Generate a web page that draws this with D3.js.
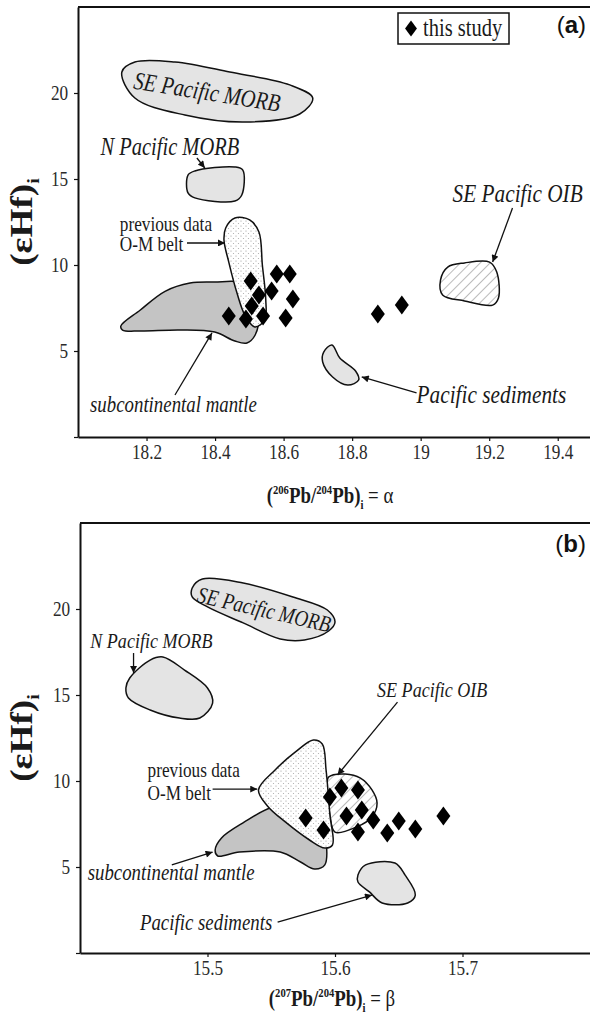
<!DOCTYPE html>
<html>
<head>
<meta charset="utf-8">
<script src="https://cdn.jsdelivr.net/npm/d3@7"></script>
<style>
  html, body { margin: 0; padding: 0; background: #fff; }
  svg { display: block; }
</style>
</head>
<body>
<svg id="chart" width="590" height="1027"></svg>
<script>
// ---------- panel (a): eHf vs 206Pb/204Pb ----------
const yTickValues = [0, 5, 10, 15, 20];
const xTicksA = [18.2, 18.4, 18.6, 18.8, 19.0, 19.2, 19.4];

const studyA = [
  [18.44, 7.03], [18.49, 6.86], [18.504, 9.07], [18.507, 7.62], [18.528, 8.26],
  [18.54, 7.03], [18.565, 8.49], [18.58, 9.48], [18.618, 9.48], [18.627, 8.02],
  [18.606, 6.92], [18.875, 7.15], [18.945, 7.67]
];

const seMorbA = [[18.128,21.22],[18.166,21.80],[18.283,21.80],[18.443,21.22],[18.618,20.47],
  [18.685,19.71],[18.647,18.78],[18.487,18.31],[18.312,18.72],[18.166,19.71]];
const nMorbA = [[18.321,15.23],[18.341,15.47],[18.458,15.70],[18.481,15.52],[18.478,14.07],
  [18.458,13.72],[18.341,13.90],[18.321,14.19]];
const beltA = [[18.431,12.15],[18.458,12.73],[18.501,12.62],[18.528,11.92],[18.538,10.0],
  [18.548,7.97],[18.545,6.80],[18.516,6.40],[18.487,7.09],[18.464,8.37],[18.440,10.17],[18.426,11.45]];
const mantleA = [[18.125,6.45],[18.181,7.37],[18.254,8.47],[18.327,8.95],[18.399,9.01],[18.472,9.01],
  [18.520,8.55],[18.530,7.38],[18.517,5.93],[18.493,5.47],[18.458,5.58],[18.399,6.10],[18.297,6.22],
  [18.181,6.16],[18.130,6.22]];
const sedA = [[18.717,4.94],[18.741,5.35],[18.764,4.59],[18.810,3.84],[18.819,3.31],[18.787,3.02],
  [18.743,3.49],[18.714,4.36]];
const oibA = [[19.058,9.13],[19.079,9.88],[19.128,10.12],[19.201,10.17],[19.222,9.59],[19.227,8.08],
  [19.210,7.67],[19.128,7.91],[19.064,8.26]];

// ---------- panel (b): eHf vs 207Pb/204Pb ----------
const xTicksB = [15.5, 15.6, 15.7];

const studyB = [
  [15.577, 7.85], [15.591, 7.15], [15.596, 9.07], [15.605, 9.59], [15.618, 9.48],
  [15.609, 7.97], [15.621, 8.31], [15.618, 7.03], [15.630, 7.73], [15.641, 6.98],
  [15.650, 7.67], [15.663, 7.21], [15.685, 7.97]
];

const seMorbB = [[15.488,21.22],[15.496,21.74],[15.528,21.51],[15.567,20.70],[15.594,19.94],
  [15.600,19.24],[15.595,18.72],[15.576,18.20],[15.557,18.26],[15.528,19.19],[15.500,20.12],[15.488,20.70]];
const nMorbB = [[15.439,15.99],[15.455,17.03],[15.465,17.21],[15.482,16.45],[15.500,15.41],
  [15.504,14.53],[15.494,13.66],[15.478,13.66],[15.455,14.13],[15.438,14.83],[15.436,15.41]];
const beltB = [[15.540,9.48],[15.553,10.64],[15.569,11.69],[15.583,12.38],[15.590,12.15],[15.593,10.64],
  [15.596,8.02],[15.598,6.28],[15.592,6.10],[15.580,6.57],[15.561,7.62],[15.547,8.55]];
const mantleB = [[15.506,5.99],[15.511,6.69],[15.529,7.62],[15.549,8.43],[15.565,8.60],[15.588,8.02],
  [15.593,6.57],[15.592,5.12],[15.584,4.88],[15.573,5.29],[15.557,5.87],[15.525,5.87],[15.508,5.64]];
const oibB = [[15.595,10.23],[15.608,10.41],[15.620,10.17],[15.629,9.48],[15.633,8.72],[15.629,7.91],
  [15.617,7.33],[15.600,7.03],[15.596,8.02],[15.594,9.48]];
const sedB = [[15.618,4.53],[15.624,5.12],[15.647,5.23],[15.655,4.53],[15.663,3.37],[15.657,2.91],
  [15.637,2.91],[15.627,3.55],[15.618,4.13]];

// annotation anchors, in data units
const labelsA = [
  { text: "SE Pacific MORB", at: [18.373, 19.59], size: 25, rot: 9, anchor: "middle" },
  { text: "N Pacific MORB", at: [18.268, 16.40], size: 25, anchor: "middle" },
  { text: "previous data", at: [18.122, 11.98], size: 21, upright: true },
  { text: "O-M belt", at: [18.122, 10.81], size: 21, upright: true },
  { text: "subcontinental mantle", at: [18.035, 1.45], size: 23 },
  { text: "Pacific sediments", at: [18.988, 1.98], size: 26 },
  { text: "SE Pacific OIB", at: [19.093, 13.66], size: 26 }
];
const arrowsA = [
  [[18.347, 16.22], [18.370, 15.64]],
  [[18.318, 11.28], [18.429, 11.28]],
  [[18.283, 2.44], [18.391, 6.05]],
  [[18.988, 2.56], [18.828, 3.49]],
  [[19.268, 13.31], [19.210, 10.17]]
];
const labelsB = [
  { text: "SE Pacific MORB", at: [15.543, 19.53], size: 23, rot: 13, anchor: "middle" },
  { text: "N Pacific MORB", at: [15.456, 17.73], size: 22, anchor: "middle" },
  { text: "previous data", at: [15.453, 10.23], size: 21, upright: true },
  { text: "O-M belt", at: [15.453, 8.90], size: 21, upright: true },
  { text: "subcontinental mantle", at: [15.406, 4.24], size: 23 },
  { text: "Pacific sediments", at: [15.447, 1.34], size: 23 },
  { text: "SE Pacific OIB", at: [15.633, 14.88], size: 22 }
];
const arrowsB = [
  [[15.442, 17.44], [15.442, 16.28]],
  [[15.504, 9.53], [15.539, 9.53]],
  [[15.472, 5.12], [15.504, 5.87]],
  [[15.555, 1.80], [15.629, 3.37]],
  [[15.649, 14.59], [15.602, 10.35]]
];

const SERIF = "'Liberation Serif', 'Times New Roman', serif";
const SX = 0.82; // glyphs in the figure are narrow/tall
const LIGHT = "#e4e4e4", MID = "#c4c4c4";

const svg = d3.select("#chart");
const defs = svg.append("defs");

const hatch = defs.append("pattern").attr("id", "hatch")
  .attr("patternUnits", "userSpaceOnUse").attr("width", 7).attr("height", 7)
  .attr("patternTransform", "rotate(45)");
hatch.append("rect").attr("width", 7).attr("height", 7).attr("fill", "#fff");
hatch.append("line").attr("x1", 0).attr("y1", 0).attr("x2", 0).attr("y2", 7)
  .attr("stroke", "#777").attr("stroke-width", 1);

const dots = defs.append("pattern").attr("id", "dots")
  .attr("patternUnits", "userSpaceOnUse").attr("width", 5).attr("height", 5);
dots.append("rect").attr("width", 5).attr("height", 5).attr("fill", "#fff");
dots.append("circle").attr("cx", 1).attr("cy", 1).attr("r", 0.6).attr("fill", "#999");
dots.append("circle").attr("cx", 3.5).attr("cy", 3.5).attr("r", 0.6).attr("fill", "#aaa");

defs.append("marker").attr("id", "arrow")
  .attr("viewBox", "0 0 10 10").attr("refX", 10).attr("refY", 5)
  .attr("markerUnits", "userSpaceOnUse").attr("markerWidth", 9).attr("markerHeight", 7)
  .attr("orient", "auto")
  .append("path").attr("d", "M0,0L10,5L0,10Z").attr("fill", "#111");

const DIAMOND = "M0,-9.5L7,0L0,9.5L-7,0Z";

function drawPanel(cfg) {
  const x = d3.scaleLinear().domain(cfg.xDomain).range([cfg.left, cfg.right]);
  const y = d3.scaleLinear().domain([0, 25]).range([cfg.bottom, cfg.top]);
  const g = svg.append("g");

  const shape = d3.line()
    .x(d => x(d[0])).y(d => y(d[1]))
    .curve(d3.curveCatmullRomClosed.alpha(0.5));

  cfg.fields.forEach(f => {
    g.append("path").attr("d", shape(f.pts))
      .attr("fill", f.fill).attr("stroke", "#111").attr("stroke-width", 1.5);
  });

  // arrows
  cfg.arrows.forEach(a => {
    g.append("line")
      .attr("x1", x(a[0][0])).attr("y1", y(a[0][1]))
      .attr("x2", x(a[1][0])).attr("y2", y(a[1][1]))
      .attr("stroke", "#111").attr("stroke-width", 1.3)
      .attr("marker-end", "url(#arrow)");
  });

  // labels
  cfg.labels.forEach(l => {
    g.append("text")
      .attr("transform", `translate(${x(l.at[0])},${y(l.at[1])}) rotate(${l.rot || 0}) scale(${SX},1)`)
      .attr("text-anchor", l.anchor || "start")
      .attr("font-family", SERIF)
      .attr("font-style", l.upright ? "normal" : "italic")
      .attr("font-size", l.size)
      .attr("fill", "#1a1a1a")
      .text(l.text);
  });

  // this study
  g.selectAll("path.study").data(cfg.study).join("path")
    .attr("class", "study")
    .attr("d", DIAMOND)
    .attr("transform", d => `translate(${x(d[0])},${y(d[1])})`)
    .attr("fill", "#000");

  // axes
  const ax = g.append("g")
    .attr("transform", `translate(0,${cfg.bottom})`)
    .call(d3.axisBottom(x).tickValues(cfg.xTicks).tickSize(4).tickSizeOuter(0).tickPadding(3)
      .tickFormat(d3.format("~g")));
  const ay = g.append("g")
    .attr("transform", `translate(${cfg.left},0)`)
    .call(d3.axisLeft(y).tickValues(yTickValues).tickSize(4).tickSizeOuter(0)
      .tickFormat(d => d === 0 ? "" : d));
  [ax, ay].forEach(a => {
    a.select(".domain").attr("stroke", "#111").attr("stroke-width", 2);
    a.selectAll(".tick line").attr("stroke", "#111").attr("stroke-width", 1.2);
    a.selectAll(".tick text")
      .attr("font-family", SERIF).attr("font-size", 21).attr("fill", "#2a2a2a");
  });
  ax.selectAll(".tick text").attr("transform", `scale(${SX},1)`);
  ay.selectAll(".tick text").attr("transform", `scale(${SX},1)`).attr("x", -12);

  // top frame line
  g.append("line")
    .attr("x1", cfg.left).attr("x2", cfg.right)
    .attr("y1", cfg.top).attr("y2", cfg.top)
    .attr("stroke", "#111").attr("stroke-width", 2);

  // y title (eHf)i
  const midY = (cfg.top + cfg.bottom) / 2;
  const yt = g.append("text")
    .attr("transform", `translate(32,${midY}) rotate(-90) scale(1.2,1)`)
    .attr("text-anchor", "middle")
    .attr("font-family", SERIF).attr("font-weight", "bold").attr("font-size", 31)
    .attr("fill", "#1a1a1a");
  yt.append("tspan").text("(εHf)");
  yt.append("tspan").attr("font-size", 17).attr("dy", 7).text("i");

  // x title
  const xt = g.append("text")
    .attr("transform", `translate(${cfg.xTitleX},${cfg.xTitleY}) scale(${SX},1)`)
    .attr("text-anchor", "middle")
    .attr("font-family", SERIF).attr("font-weight", "bold").attr("font-size", 23)
    .attr("fill", "#1a1a1a");
  xt.append("tspan").text("(");
  xt.append("tspan").attr("font-size", 13).attr("dy", -9).text(cfg.isotope);
  xt.append("tspan").attr("dy", 9).text("Pb/");
  xt.append("tspan").attr("font-size", 13).attr("dy", -9).text("204");
  xt.append("tspan").attr("dy", 9).text("Pb)");
  xt.append("tspan").attr("font-size", 13).attr("dy", 6).text("i");
  xt.append("tspan").attr("dy", -6).attr("font-weight", "normal").text(" = " + cfg.greek);

  // panel letter
  const pl = g.append("text")
    .attr("x", 586).attr("y", cfg.top + cfg.letterDy)
    .attr("text-anchor", "end")
    .attr("font-family", "'Liberation Sans', Arial, sans-serif").attr("font-size", 24)
    .attr("fill", "#111");
  pl.append("tspan").text("(");
  pl.append("tspan").attr("font-weight", "bold").text(cfg.letter);
  pl.append("tspan").text(")");

  return g;
}

const gA = drawPanel({
  left: 78, right: 592, top: 7, bottom: 437,
  xDomain: [18, 19.5], xTicks: xTicksA,
  fields: [
    { pts: seMorbA, fill: LIGHT }, { pts: nMorbA, fill: LIGHT },
    { pts: mantleA, fill: MID }, { pts: beltA, fill: "url(#dots)" },
    { pts: sedA, fill: LIGHT }, { pts: oibA, fill: "url(#hatch)" }
  ],
  study: studyA, labels: labelsA, arrows: arrowsA,
  isotope: "206", greek: "α", xTitleX: 330, xTitleY: 503,
  letter: "a", letterDy: 26
});

drawPanel({
  left: 80, right: 590, top: 523, bottom: 953,
  xDomain: [15.4, 15.8], xTicks: xTicksB,
  fields: [
    { pts: seMorbB, fill: LIGHT }, { pts: nMorbB, fill: LIGHT },
    { pts: mantleB, fill: MID }, { pts: oibB, fill: "url(#hatch)" },
    { pts: beltB, fill: "url(#dots)" }, { pts: sedB, fill: LIGHT }
  ],
  study: studyB, labels: labelsB, arrows: arrowsB,
  isotope: "207", greek: "β", xTitleX: 332, xTitleY: 1006,
  letter: "b", letterDy: 29
});

// legend (panel a only)
const legend = gA.append("g").attr("transform", "translate(398,13)");
legend.append("rect").attr("width", 111).attr("height", 31)
  .attr("fill", "#fff").attr("stroke", "#111").attr("stroke-width", 1.5);
legend.append("path").attr("d", DIAMOND).attr("transform", "translate(13,15.5) scale(0.85)").attr("fill", "#000");
legend.append("text")
  .attr("transform", `translate(25,23) scale(${SX},1)`)
  .attr("font-family", SERIF).attr("font-size", 25).attr("fill", "#1a1a1a")
  .text("this study");
</script>
</body>
</html>
